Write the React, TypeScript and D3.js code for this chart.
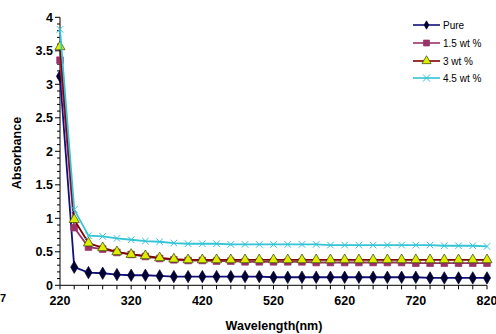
import React from "react";
import * as d3 from "d3";

const wavelengths = d3.range(220, 821, 20);
const pure = [3.12, 0.27, 0.19, 0.18, 0.16, 0.15, 0.15, 0.14, 0.13, 0.13, 0.13, 0.13, 0.13, 0.13, 0.13, 0.12, 0.12, 0.12, 0.12, 0.12, 0.12, 0.12, 0.12, 0.12, 0.12, 0.12, 0.11, 0.11, 0.11, 0.11, 0.11];
const wt15 = [3.36, 0.86, 0.57, 0.54, 0.49, 0.46, 0.43, 0.40, 0.38, 0.37, 0.37, 0.36, 0.36, 0.35, 0.35, 0.35, 0.35, 0.35, 0.34, 0.34, 0.34, 0.34, 0.34, 0.34, 0.34, 0.33, 0.33, 0.33, 0.33, 0.33, 0.33];
const wt3 = [3.56, 0.98, 0.63, 0.56, 0.50, 0.46, 0.44, 0.41, 0.39, 0.38, 0.38, 0.38, 0.38, 0.38, 0.38, 0.38, 0.38, 0.38, 0.38, 0.38, 0.38, 0.38, 0.38, 0.38, 0.38, 0.38, 0.38, 0.38, 0.38, 0.38, 0.38];
const wt45 = [3.82, 1.13, 0.74, 0.73, 0.70, 0.68, 0.66, 0.65, 0.63, 0.62, 0.62, 0.62, 0.61, 0.61, 0.61, 0.61, 0.61, 0.61, 0.61, 0.60, 0.60, 0.60, 0.60, 0.60, 0.60, 0.60, 0.60, 0.59, 0.59, 0.59, 0.58];

const seriesNames = ["Pure", "1.5 wt %", "3 wt %", "4.5 wt %"];
const xTicks = [220, 320, 420, 520, 620, 720, 820];
const yTicks = [0, 0.5, 1, 1.5, 2, 2.5, 3, 3.5, 4];

const styles = [
  { line: "#10107a", fill: "#000033", stroke: "#000033", symbol: d3.symbolDiamond, size: 44 },
  { line: "#993366", fill: "#993366", stroke: "#993366", symbol: d3.symbolSquare, size: 44 },
  { line: "#800000", fill: "#ddee00", stroke: "#334400", symbol: d3.symbolTriangle, size: 44 },
  { line: "#33c4d6", fill: "none", stroke: "#33c4d6", symbol: d3.symbolX, size: 30 },
];

export default function App() {
  const W = 496, H = 334;
  const x = d3.scaleLinear().domain([220, 820]).range([60, 487]);
  const y = d3.scaleLinear().domain([0, 4]).range([285.3, 17.3]);
  const all = [pure, wt15, wt3, wt45];
  const line = d3.line<number>().x((_, i) => x(wavelengths[i])).y((d) => y(d));
  const minorY = d3.range(0, 4.0001, 0.1);
  const font = "Arial, 'Liberation Sans', sans-serif";
  const legendY = [25, 43, 61, 78];

  return (
    <div style={{ position: "fixed", left: 0, top: 0 }}>
      <svg width={W} height={H} style={{ display: "block", background: "#fff" }} fontFamily={font}>
        <line x1={x(220)} x2={x(220)} y1={y(0)} y2={y(4)} stroke="#000" strokeWidth={1} />
        {minorY.map((v, i) => {
          const major = Math.abs(v * 2 - Math.round(v * 2)) < 1e-6;
          return (
            <line key={i} x1={x(220) - (major ? 5 : 3)} x2={x(220)} y1={y(v)} y2={y(v)} stroke="#000" strokeWidth={1} />
          );
        })}
        {yTicks.map((t) => (
          <text key={t} x={53} y={y(t)} dy="0.36em" textAnchor="end" fontSize={12.5} fontWeight="bold" fill="#000">
            {t}
          </text>
        ))}
        <line x1={x(220)} x2={x(820)} y1={y(0)} y2={y(0)} stroke="#000" strokeWidth={1} />
        {wavelengths.map((w) => (
          <line key={w} x1={x(w)} x2={x(w)} y1={y(0)} y2={y(0) + 4} stroke="#000" strokeWidth={1} />
        ))}
        {xTicks.map((t) => (
          <text key={t} x={x(t)} y={305} textAnchor="middle" fontSize={12.5} fontWeight="bold" fill="#000">
            {t}
          </text>
        ))}
        <text x={274} y={330} textAnchor="middle" fontSize={12.5} fontWeight="bold" fill="#000">
          Wavelength(nm)
        </text>
        <text transform={`translate(21,153) rotate(-90)`} textAnchor="middle" fontSize={12.5} fontWeight="bold" fill="#000">
          Absorbance
        </text>
        <text x={0} y={302} fontSize={11} fontWeight="bold" fill="#000">7</text>

        {all.map((vals, si) => (
          <g key={si}>
            <path d={line(vals) || ""} fill="none" stroke={styles[si].line} strokeWidth={1.8} />
            {vals.map((v, i) => (
              <path
                key={i}
                transform={`translate(${x(wavelengths[i])},${y(v)})`}
                d={d3.symbol().type(styles[si].symbol).size(styles[si].size)() || ""}
                fill={styles[si].fill}
                stroke={styles[si].stroke}
                strokeWidth={si === 3 ? 1 : 0.7}
              />
            ))}
          </g>
        ))}

        {seriesNames.map((n, i) => (
          <g key={n}>
            <line x1={413} x2={440} y1={legendY[i]} y2={legendY[i]} stroke={styles[i].line} strokeWidth={1.6} />
            <path
              transform={`translate(426.5,${legendY[i]})`}
              d={d3.symbol().type(styles[i].symbol).size(i === 0 ? 20 : 36)() || ""}
              fill={styles[i].fill}
              stroke={styles[i].stroke}
              strokeWidth={i === 3 ? 1 : 0.7}
            />
            <text x={443} y={legendY[i]} dy="0.35em" fontSize={10} fill="#000">
              {n}
            </text>
          </g>
        ))}
      </svg>
    </div>
  );
}
